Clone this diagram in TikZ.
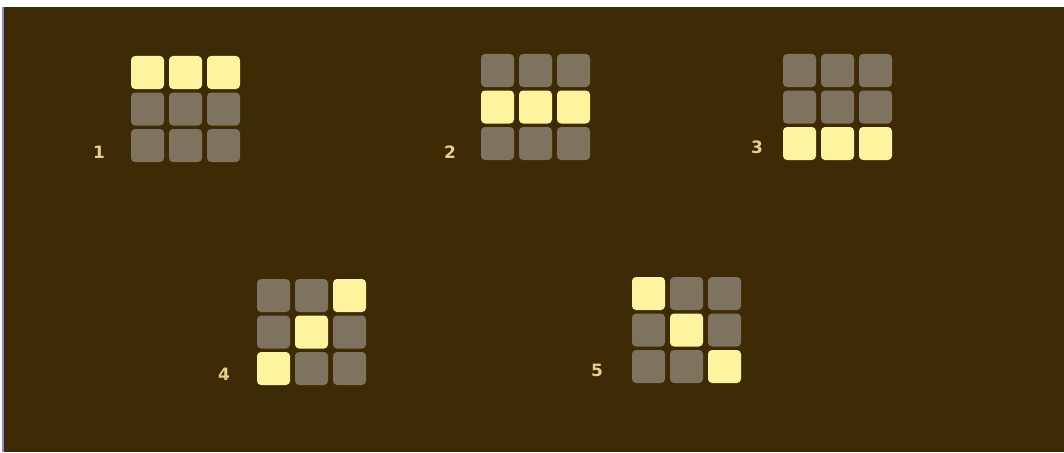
\documentclass[tikz,border=0pt]{standalone}
\usepackage{fontspec}
\setmainfont{DejaVu Sans}
\usetikzlibrary{positioning}
\definecolor{ground}{HTML}{3E2A04}
\definecolor{lit}{HTML}{FFF3A0}
\definecolor{dim}{HTML}{7E735F}
\definecolor{digit}{HTML}{E3D08E}
\definecolor{edge}{HTML}{8A86E0}
\tikzset{
  cell/.style={rectangle, minimum size=33pt, inner sep=0pt, rounded corners=4pt},
  cellon/.style={cell, fill=lit},
  celloff/.style={cell, fill=dim},
  num/.style={text=digit, font=\fontsize{17}{17}\selectfont\bfseries, inner sep=0pt}
}
\begin{document}
\begin{tikzpicture}[x=1pt, y=-1pt]
\useasboundingbox (0,0) rectangle (1064,452);
\fill[white] (0,0) rectangle (1064,452);
\fill[ground] (4,7) rectangle (1064,452);
\draw[edge, line width=1.5pt] (3,7) -- (3,452);
\foreach \g/\gx/\gy/\lx/\ly/\pat in {
  1/131/56/99/152/{on,on,on,off,off,off,off,off,off},
  2/481/54/450/152/{off,off,off,on,on,on,off,off,off},
  3/783/54/757/147/{off,off,off,off,off,off,on,on,on},
  4/257/279/224/374/{off,off,on,off,on,off,on,off,off},
  5/632/277/597/370/{on,off,off,off,on,off,off,off,on}} {
  \foreach \s [count=\i from 0] in \pat
    \node[cell\s] (c\g-\i) at ({\gx+16.5+38*mod(\i,3)}, {\gy+16.5+36.5*int(\i/3)}) {};
  \node[num] (n\g) at (\lx,\ly) {\g};
}
\end{tikzpicture}
\end{document}
